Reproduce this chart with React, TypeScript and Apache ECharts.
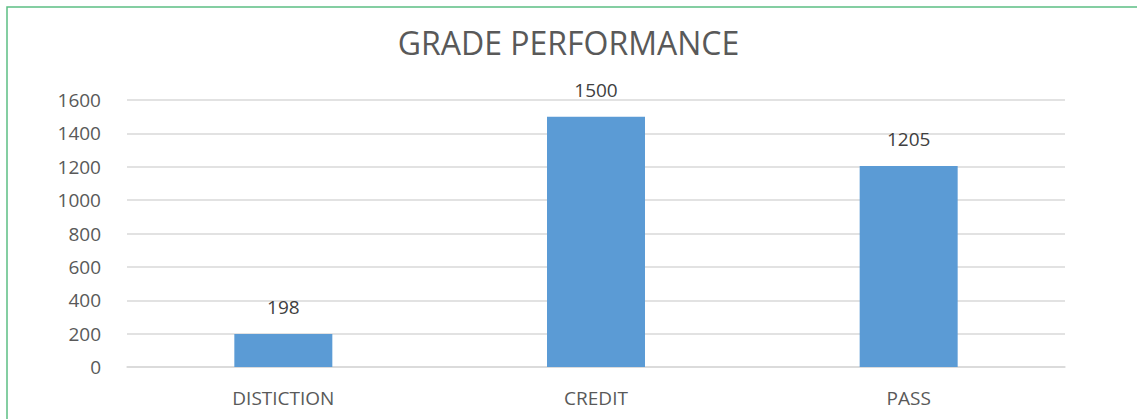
import React, { useEffect, useRef } from "react";
import * as echarts from "echarts";

const categories = ["DISTICTION", "CREDIT", "PASS"];
const values = [198, 1500, 1205];
const titleText = "GRADE PERFORMANCE";

export default function App() {
  const ref = useRef<HTMLDivElement>(null);
  useEffect(() => {
    if (!ref.current) return;
    const chart = echarts.init(ref.current, null, { renderer: "svg" });
    const font = "'Open Sans', 'Liberation Sans', sans-serif";
    chart.setOption({
      animation: false,
      backgroundColor: "#ffffff",
      title: {
        text: titleText,
        left: "center",
        top: 21,
        textStyle: { fontFamily: font, fontSize: 32, fontWeight: "normal", color: "#595959" },
      },
      graphic: [
        {
          type: "rect",
          shape: { x: 7, y: 7, width: 1300, height: 600 },
          style: { fill: "none", stroke: "#5CBF84", lineWidth: 1.5 },
          silent: true,
        },
      ],
      grid: { left: 127, right: 72, top: 100, bottom: 52, containLabel: false },
      xAxis: {
        type: "category",
        data: categories,
        axisLine: { show: true, lineStyle: { color: "#D9D9D9", width: 1.5 } },
        axisTick: { show: false },
        axisLabel: { fontFamily: font, fontSize: 19, color: "#595959", margin: 21 },
      },
      yAxis: {
        type: "value",
        min: 0,
        max: 1600,
        interval: 200,
        axisLine: { show: false },
        axisTick: { show: false },
        splitLine: { lineStyle: { color: "#D9D9D9", width: 1.5 } },
        axisLabel: {
          fontFamily: font,
          fontSize: 19,
          color: "#595959",
          margin: 26,
          formatter: (v: number) => String(v),
        },
      },
      series: [
        {
          type: "bar",
          data: values,
          barWidth: 98,
          itemStyle: { color: "#5B9BD5" },
          label: {
            show: true,
            position: "top",
            distance: 17,
            fontFamily: font,
            fontSize: 19,
            color: "#404040",
          },
        },
      ],
    });
    return () => chart.dispose();
  }, []);
  return (
    <div
      ref={ref}
      style={{ position: "absolute", left: 0, top: 0, width: 1137, height: 419 }}
    />
  );
}
